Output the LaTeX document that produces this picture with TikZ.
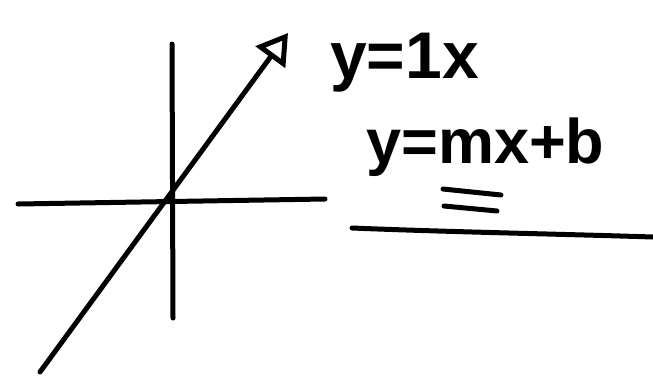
\documentclass[tikz,border=0pt]{standalone}
\usepackage{fontspec}
\setmainfont{Liberation Sans}
\usetikzlibrary{arrows.meta}
\begin{document}
\begin{tikzpicture}[x=1pt,y=-1pt,
  ink/.style={line width=5pt, line cap=round, line join=round, black},
  eqlbl/.style={inner sep=0pt, font=\fontsize{66}{66}\selectfont\bfseries},
  eqlblb/.style={inner sep=0pt, font=\fontsize{63}{63}\selectfont\bfseries}]
\useasboundingbox (0,0) rectangle (653,376);
% axes
\coordinate (xl) at (18,204);
\coordinate (xr) at (325,199);
\coordinate (yt) at (172,44);
\coordinate (yb) at (173,318);
\coordinate (ds) at (40,372);
\coordinate (de) at (288,33);
\draw[ink] (xl) -- (xr);
\draw[ink] (yt) -- (yb);
\draw[ink, -{Triangle[open,length=30pt,width=36pt,line width=5pt]}] (ds) -- (de);
% equations
\node[eqlbl, anchor=base west] (eqa) at (330,78) {y=1x};
\node[eqlblb, anchor=base west] (eqb) at (366,163) {y=mx+b};
% double underline under m
\coordinate (ua1) at (443,189);
\coordinate (ua2) at (501,195);
\coordinate (ub1) at (444,206);
\coordinate (ub2) at (497,211);
\draw[ink] (ua1) -- (ua2);
\draw[ink] (ub1) -- (ub2);
% long underline
\coordinate (la) at (352,228);
\coordinate (lb) at (653,237);
\draw[ink] (la) .. controls (450,232) and (560,234) .. (lb);
\end{tikzpicture}
\end{document}
